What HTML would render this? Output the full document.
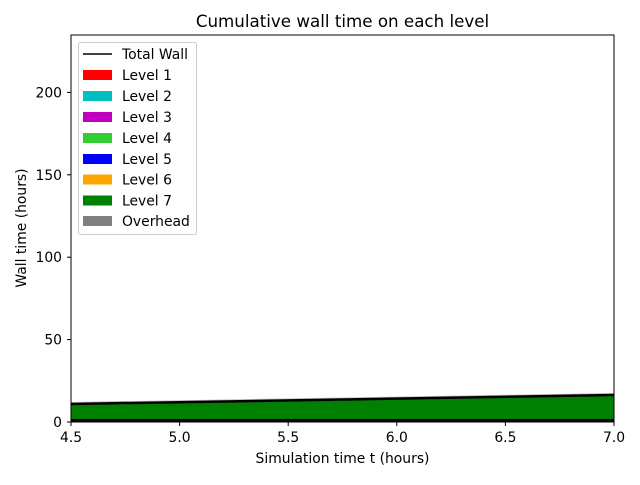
<!DOCTYPE html><html><head><style>body{margin:0;background:#fff}</style></head><body>
<svg width="640" height="480" xmlns="http://www.w3.org/2000/svg" font-family="DejaVu Sans, Liberation Sans, sans-serif">
<rect width="640" height="480" fill="#fff"/>
<text x="342.5" y="27" font-size="16.7" text-anchor="middle">Cumulative wall time on each level</text>
<polygon points="71,405 614,396 614,420 71,420" fill="#008000"/>
<polyline points="71,402.5 614,393.5" stroke="#bbb" stroke-width="1" fill="none"/>
<polyline points="71,404 614,395" stroke="#000" stroke-width="2.5" fill="none"/>
<rect x="71" y="419" width="543" height="3" fill="#000"/>
<rect x="71" y="35" width="543" height="387" fill="none" stroke="#000" stroke-width="1"/>
<g font-size="13.9" text-anchor="middle">
<line x1="71" y1="422" x2="71" y2="426" stroke="#000"/><text x="71" y="442">4.5</text>
<line x1="179.6" y1="422" x2="179.6" y2="426" stroke="#000"/><text x="179.6" y="442">5.0</text>
<line x1="288.2" y1="422" x2="288.2" y2="426" stroke="#000"/><text x="288.2" y="442">5.5</text>
<line x1="396.8" y1="422" x2="396.8" y2="426" stroke="#000"/><text x="396.8" y="442">6.0</text>
<line x1="505.4" y1="422" x2="505.4" y2="426" stroke="#000"/><text x="505.4" y="442">6.5</text>
<line x1="614" y1="422" x2="614" y2="426" stroke="#000"/><text x="614" y="442">7.0</text>
</g>
<g font-size="13.9" text-anchor="end">
<line x1="67" y1="422" x2="71" y2="422" stroke="#000"/><text x="62" y="427">0</text>
<line x1="67" y1="339.6" x2="71" y2="339.6" stroke="#000"/><text x="62" y="344.6">50</text>
<line x1="67" y1="257.2" x2="71" y2="257.2" stroke="#000"/><text x="62" y="262.2">100</text>
<line x1="67" y1="174.8" x2="71" y2="174.8" stroke="#000"/><text x="62" y="179.8">150</text>
<line x1="67" y1="92.4" x2="71" y2="92.4" stroke="#000"/><text x="62" y="97.4">200</text>
</g>
<text x="342.5" y="463" font-size="13.9" text-anchor="middle">Simulation time t (hours)</text>
<text transform="translate(26,228) rotate(-90)" font-size="13.9" text-anchor="middle">Wall time (hours)</text>
<rect x="78.5" y="42.5" width="118" height="192" rx="2" fill="#fff" fill-opacity="0.8" stroke="#ccc"/>
<g font-size="13.9">
<line x1="83" y1="54" x2="112" y2="54" stroke="#000" stroke-width="1.5"/><text x="122" y="59">Total Wall</text>
<rect x="83" y="70" width="29" height="10" fill="#f00"/><text x="122" y="80">Level 1</text>
<rect x="83" y="91" width="29" height="10" fill="#00bfbf"/><text x="122" y="101">Level 2</text>
<rect x="83" y="112" width="29" height="10" fill="#bf00bf"/><text x="122" y="122">Level 3</text>
<rect x="83" y="133" width="29" height="10" fill="#32cd32"/><text x="122" y="143">Level 4</text>
<rect x="83" y="154" width="29" height="10" fill="#00f"/><text x="122" y="164">Level 5</text>
<rect x="83" y="174.5" width="29" height="10" fill="#ffa500"/><text x="122" y="184.5">Level 6</text>
<rect x="83" y="195.5" width="29" height="10" fill="#008000"/><text x="122" y="205.5">Level 7</text>
<rect x="83" y="216" width="29" height="10" fill="#808080"/><text x="122" y="226">Overhead</text>
</g>
</svg></body></html>
